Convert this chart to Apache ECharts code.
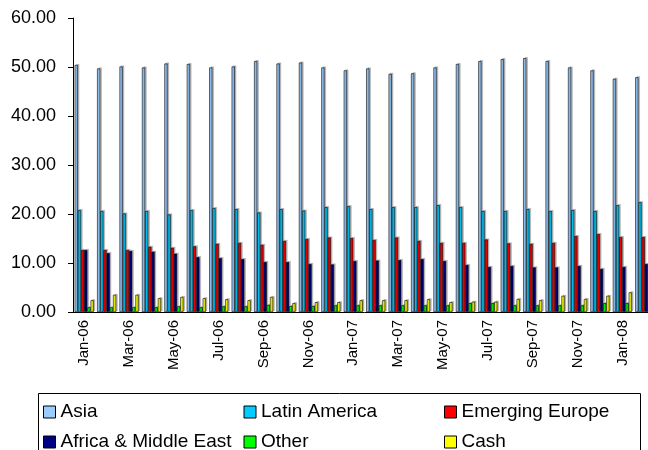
<!DOCTYPE html>
<html>
<head>
<meta charset="utf-8">
<script src="https://cdn.jsdelivr.net/npm/echarts@6/dist/echarts.min.js"></script>
<style>
  html, body { margin: 0; padding: 0; background: #fff; overflow: hidden; }
  #chart { width: 660px; height: 450px; }
</style>
</head>
<body>
<div id="chart"></div>
<script>
// Monthly regional allocation (%), Jan-06 to Feb-08
const months = ['Jan-06','Feb-06','Mar-06','Apr-06','May-06','Jun-06','Jul-06','Aug-06','Sep-06','Oct-06','Nov-06','Dec-06',
                'Jan-07','Feb-07','Mar-07','Apr-07','May-07','Jun-07','Jul-07','Aug-07','Sep-07','Oct-07','Nov-07','Dec-07',
                'Jan-08','Feb-08'];
const asia = [50.4,49.7,50.1,49.9,50.7,50.6,49.9,50.1,51.2,50.7,50.9,49.9,49.3,49.7,48.6,48.7,49.9,50.6,51.2,51.6,51.8,51.2,49.9,49.3,47.6,47.9];
const latinAmerica = [20.8,20.6,20.1,20.6,19.9,20.8,21.2,21.0,20.3,21.0,20.7,21.4,21.6,21.0,21.4,21.4,21.8,21.4,20.6,20.6,21.0,20.6,20.8,20.6,21.8,22.4];
const emergingEurope = [12.65,12.65,12.65,13.3,13.1,13.4,13.9,14.1,13.7,14.5,14.9,15.2,15.1,14.7,15.2,14.5,14.1,14.1,14.8,14.0,13.9,14.1,15.5,15.9,15.3,15.3];
const africaMiddleEast = [12.65,12.0,12.45,12.3,11.9,11.2,11.0,10.8,10.2,10.2,9.8,9.7,10.4,10.5,10.6,10.8,10.4,9.6,9.2,9.4,9.1,9.1,9.4,8.8,9.2,9.8];
const other = [0.95,0.95,0.95,0.95,1.15,0.95,1.15,1.15,1.43,1.2,1.2,1.35,1.35,1.35,1.35,1.35,1.35,1.8,1.8,1.35,1.35,1.35,1.35,1.8,1.8,1.5];
const cash = [2.4,3.5,3.5,2.8,3.06,2.8,2.6,2.4,3.06,1.8,2.0,2.0,2.4,2.4,2.4,2.6,2.0,2.1,2.1,2.65,2.4,3.3,2.65,3.3,4.0,2.0];

const seriesDefs = [
  { name: 'Asia', data: asia, color: '#99CCFF' },
  { name: 'Latin America', data: latinAmerica, color: '#00CCFF' },
  { name: 'Emerging Europe', data: emergingEurope, color: '#FF0000' },
  { name: 'Africa & Middle East', data: africaMiddleEast, color: '#000080' },
  { name: 'Other', data: other, color: '#00FF00' },
  { name: 'Cash', data: cash, color: '#FFFF00' }
];

const font = "'Liberation Sans', Arial, sans-serif";
const chart = echarts.init(document.getElementById('chart'), null, { renderer: 'canvas' });

chart.setOption({
  animation: false,
  backgroundColor: '#ffffff',
  // the canvas is a little wider than the page, so the last month runs off the right edge
  grid: { left: 73, right: 4, top: 18, height: 294, containLabel: false },
  xAxis: {
    type: 'category',
    data: months,
    boundaryGap: true,
    axisLine: { lineStyle: { color: '#000', width: 1 } },
    axisTick: { interval: 1, length: 5, lineStyle: { color: '#000' } },
    axisLabel: {
      interval: 1, rotate: 90, margin: 8,
      color: '#000', fontFamily: font, fontSize: 15
    },
    splitLine: { show: false }
  },
  yAxis: {
    type: 'value',
    min: 0, max: 60, interval: 10,
    axisLine: { show: true, lineStyle: { color: '#000', width: 1 } },
    axisTick: { show: true, length: 5, lineStyle: { color: '#000' } },
    axisLabel: {
      margin: 17, color: '#000', fontFamily: font, fontSize: 18,
      formatter: v => v.toFixed(2)
    },
    splitLine: { show: false }
  },
  legend: {
    left: 43, top: 401, width: 600, padding: 0,
    orient: 'horizontal',
    itemWidth: 12, itemHeight: 12, itemGap: 8, itemTextGap: 3,
    icon: 'rect',
    textStyle: { color: '#000', fontFamily: font, fontSize: 19, width: 175, lineHeight: 22 },
    itemStyle: { borderColor: '#000', borderWidth: 1 },
    data: seriesDefs.map(s => s.name)
  },
  graphic: [{
    type: 'rect',
    shape: { x: 38.5, y: 393.5, width: 602, height: 80 },
    style: { fill: 'none', stroke: '#000', lineWidth: 1 },
    silent: true
  }],
  series: seriesDefs.map(s => ({
    name: s.name,
    type: 'bar',
    data: s.data,
    barGap: '0%',
    barCategoryGap: '15%',
    itemStyle: {
      color: s.color,
      borderColor: '#000',
      borderWidth: 0.6,
      shadowColor: 'rgba(0,0,0,0.25)',
      shadowOffsetX: 1.5,
      shadowOffsetY: -1,
      shadowBlur: 0
    }
  }))
});
</script>
</body>
</html>
